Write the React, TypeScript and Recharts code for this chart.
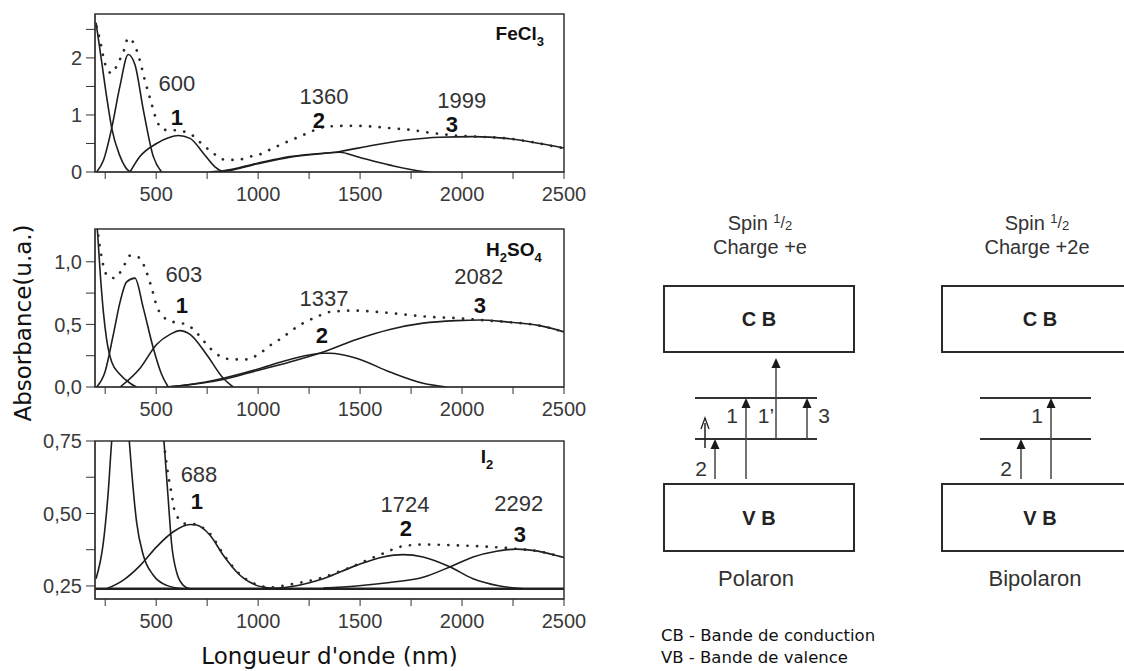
import React from 'react';
import {
  LineChart, Line, XAxis, YAxis, ReferenceArea, ReferenceLine, ReferenceDot,
  ComposedChart, Scatter,
} from 'recharts';

type Pt = [number, number];
type Note = { x: number; y: number; text: string; band?: boolean };
type Chem = { x: number; y: number; parts: [string, boolean][] };

const SANS = '"Liberation Sans", Arial, sans-serif';
const DEJAVU = '"DejaVu Sans", sans-serif';

// shared wavelength axis
const X_TICKS = [250, 500, 750, 1000, 1250, 1500, 1750, 2000, 2250, 2500];
const X_TICK_LABELS = ['', '500', '', '1000', '', '1500', '', '2000', '', '2500'];

// ---- FeCl3 ----
const FECL3_Y_TICKS = [0, 0.5, 1, 1.5, 2, 2.5];
const FECL3_Y_LABELS = ['0', '', '1', '', '2', ''];
const FECL3_A: Pt[] = [[205, 2.62], [230, 2.0], [260, 1.25], [282, 0.77], [320, 0.3], [350, 0.08], [372, 0]];
const FECL3_B: Pt[] = [[208, 0], [241, 0.2], [282, 0.77], [322, 1.5], [363, 2.06], [396, 1.88], [437, 1.09], [486, 0.27], [527, 0]];
const FECL3_P1: Pt[] = [[372, 0], [420, 0.27], [502, 0.5], [560, 0.6], [608, 0.64], [666, 0.59], [731, 0.33], [788, 0.09], [829, 0]];
const FECL3_P2: Pt[] = [[764, 0], [829, 0.02], [992, 0.15], [1156, 0.27], [1319, 0.33], [1401, 0.345], [1482, 0.27], [1646, 0.12], [1809, 0.01], [1840, 0]];
const FECL3_P3: Pt[] = [[764, 0], [829, 0.01], [992, 0.14], [1156, 0.26], [1401, 0.36], [1564, 0.47], [1728, 0.56], [1891, 0.61], [2054, 0.62], [2218, 0.59], [2381, 0.5], [2500, 0.42]];
const FECL3_SUM: Pt[] = [[208, 2.55], [225, 2.3], [249, 1.9], [282, 1.73], [314, 1.92], [339, 2.1], [363, 2.35], [404, 2.14], [421, 1.94], [445, 1.6], [470, 1.29], [502, 0.91], [535, 0.74], [600, 0.73], [666, 0.67], [731, 0.47], [780, 0.33], [829, 0.22], [894, 0.21], [960, 0.27], [1009, 0.31], [1074, 0.42], [1123, 0.5], [1189, 0.6], [1254, 0.7], [1303, 0.77], [1352, 0.8], [1450, 0.81], [1548, 0.8], [1646, 0.77], [1744, 0.74], [1842, 0.69], [1940, 0.65], [2006, 0.63], [2071, 0.62], [2218, 0.59], [2381, 0.5], [2479, 0.43], [2500, 0.42]];
const FECL3_NOTES: Note[] = [
  { x: 602, y: 1.56, text: '600' }, { x: 602, y: 0.95, text: '1', band: true },
  { x: 1323, y: 1.32, text: '1360' }, { x: 1298, y: 0.91, text: '2', band: true },
  { x: 1999, y: 1.26, text: '1999' }, { x: 1950, y: 0.84, text: '3', band: true },
];
const FECL3_CHEM: Chem = { x: 2283, y: 2.32, parts: [['FeCl', false], ['3', true]] };

// ---- H2SO4 ----
const H2SO4_Y_TICKS = [0, 0.25, 0.5, 0.75, 1];
const H2SO4_Y_LABELS = ['0,0', '', '0,5', '', '1,0'];
const H2SO4_A: Pt[] = [[211, 1.27], [226, 0.9], [241, 0.6], [257, 0.38], [282, 0.2], [323, 0.1], [372, 0.03], [404, 0]];
const H2SO4_B: Pt[] = [[208, 0], [249, 0.12], [290, 0.42], [323, 0.68], [355, 0.84], [396, 0.87], [437, 0.63], [486, 0.31], [527, 0.1], [559, 0]];
const H2SO4_P1: Pt[] = [[323, 0], [421, 0.15], [502, 0.34], [568, 0.42], [617, 0.45], [666, 0.42], [747, 0.26], [829, 0.07], [878, 0]];
const H2SO4_P2: Pt[] = [[551, 0], [666, 0.02], [829, 0.07], [992, 0.14], [1156, 0.22], [1319, 0.27], [1352, 0.27], [1482, 0.23], [1646, 0.12], [1809, 0.03], [1924, 0]];
const H2SO4_P3: Pt[] = [[551, 0], [829, 0.06], [992, 0.13], [1156, 0.2], [1319, 0.28], [1482, 0.38], [1646, 0.46], [1809, 0.51], [1973, 0.53], [2088, 0.535], [2218, 0.52], [2381, 0.49], [2500, 0.44]];
const H2SO4_SUM: Pt[] = [[216, 1.21], [233, 1.03], [265, 0.88], [298, 0.87], [339, 0.96], [372, 1.05], [421, 1.03], [445, 0.95], [478, 0.79], [502, 0.65], [535, 0.56], [584, 0.52], [649, 0.5], [706, 0.42], [764, 0.31], [821, 0.24], [878, 0.22], [943, 0.22], [1009, 0.27], [1066, 0.34], [1115, 0.39], [1172, 0.46], [1221, 0.51], [1287, 0.56], [1352, 0.6], [1466, 0.61], [1581, 0.6], [1711, 0.58], [1842, 0.56], [1973, 0.55], [2088, 0.535], [2218, 0.52], [2381, 0.49], [2500, 0.44]];
const H2SO4_NOTES: Note[] = [
  { x: 636, y: 0.9, text: '603' }, { x: 626, y: 0.65, text: '1', band: true },
  { x: 1323, y: 0.71, text: '1337' }, { x: 1313, y: 0.41, text: '2', band: true },
  { x: 2082, y: 0.88, text: '2082' }, { x: 2087, y: 0.65, text: '3', band: true },
];
const H2SO4_CHEM: Chem = { x: 2254, y: 1.046, parts: [['H', false], ['2', true], ['SO', false], ['4', true]] };

// ---- I2 ----
const I2_Y_TICKS = [0.25, 0.375, 0.5, 0.625, 0.75];
const I2_Y_LABELS = ['0,25', '', '0,50', '', '0,75'];
const I2_BASE = 0.24;
const I2_A: Pt[] = [[205, 0.275], [241, 0.4], [265, 0.575], [282, 0.75], [300, 0.86], [325, 0.9], [350, 0.86], [368, 0.75], [380, 0.644], [404, 0.47], [437, 0.356], [486, 0.287], [551, 0.252], [633, 0.24]];
const I2_B: Pt[] = [[480, 1.2], [520, 0.9], [538, 0.75], [559, 0.55], [575, 0.4], [600, 0.298], [633, 0.252], [666, 0.24]];
const I2_P1: Pt[] = [[257, 0.24], [339, 0.27], [421, 0.32], [502, 0.385], [584, 0.437], [666, 0.462], [698, 0.46], [764, 0.425], [829, 0.356], [911, 0.287], [992, 0.252], [1058, 0.243], [1120, 0.24]];
const I2_P2: Pt[] = [[1025, 0.24], [1156, 0.247], [1319, 0.275], [1482, 0.321], [1613, 0.35], [1711, 0.358], [1809, 0.35], [1940, 0.316], [2054, 0.275], [2185, 0.25], [2299, 0.24]];
const I2_P3: Pt[] = [[1319, 0.243], [1482, 0.25], [1646, 0.262], [1809, 0.28], [1948, 0.318], [2054, 0.35], [2169, 0.37], [2267, 0.377], [2365, 0.371], [2479, 0.352], [2500, 0.348]];
const I2_SUM: Pt[] = [[543, 0.713], [559, 0.632], [575, 0.57], [592, 0.506], [641, 0.465], [666, 0.465], [764, 0.43], [829, 0.36], [911, 0.29], [992, 0.255], [1058, 0.245], [1156, 0.255], [1319, 0.28], [1400, 0.3], [1466, 0.318], [1531, 0.338], [1630, 0.367], [1695, 0.385], [1809, 0.393], [1973, 0.39], [2136, 0.385], [2283, 0.377], [2365, 0.371], [2479, 0.352]];
const I2_NOTES: Note[] = [
  { x: 710, y: 0.636, text: '688' }, { x: 700, y: 0.54, text: '1', band: true },
  { x: 1720, y: 0.53, text: '1724' }, { x: 1725, y: 0.447, text: '2', band: true },
  { x: 2278, y: 0.533, text: '2292' }, { x: 2283, y: 0.426, text: '3', band: true },
];
const I2_CHEM: Chem = { x: 2122, y: 0.674, parts: [['I', false], ['2', true]] };

// ---- band diagram (units of energy, VB top = 0) ----
const BOXES = [
  { x1: 6.4, x2: 25.4, y1: 13.2, y2: 19.8, label: 'C B' },
  { x1: 6.4, x2: 25.4, y1: -6.7, y2: 0, label: 'V B' },
  { x1: 34.2, x2: 53.8, y1: 13.2, y2: 19.8, label: 'C B' },
  { x1: 34.2, x2: 53.8, y1: -6.7, y2: 0, label: 'V B' },
];
const LEVELS = [
  { x1: 9.5, x2: 21.7, y: 4.5 }, { x1: 9.5, x2: 21.7, y: 8.6 },
  { x1: 38, x2: 49.1, y: 4.5 }, { x1: 38, x2: 49.1, y: 8.6 },
];
const ARROWS = [
  { x: 11.5, from: 0.5, to: 4.5, open: false },
  { x: 14.6, from: 0.5, to: 8.6, open: false },
  { x: 17.6, from: 4.5, to: 12.6, open: false },
  { x: 20.7, from: 4.5, to: 8.6, open: false },
  { x: 10.5, from: 3.6, to: 6.6, open: true },
  { x: 42.1, from: 0.5, to: 4.5, open: false },
  { x: 45.1, from: 0.5, to: 8.6, open: false },
];
const SPIN_PARTS: [string, number, number][] = [['Spin ', 20, 0], ['1', 13, -7], ['/', 16, -2], ['2', 13, 0]];
const DIAGRAM_TEXTS = [
  { x: 16.0, y: 25.4, text: 'spin' }, { x: 16.0, y: 23.0, text: 'Charge +e' },
  { x: 43.7, y: 25.4, text: 'spin' }, { x: 43.7, y: 23.0, text: 'Charge +2e' },
  { x: 15.6, y: -10.2, text: 'Polaron' }, { x: 43.5, y: -10.2, text: 'Bipolaron' },
  { x: 13.2, y: 6.9, text: '1' }, { x: 16.6, y: 6.9, text: '1\u2019' }, { x: 22.4, y: 6.9, text: '3' },
  { x: 10.1, y: 1.6, text: '2' }, { x: 43.7, y: 6.9, text: '1' }, { x: 40.6, y: 1.6, text: '2' },
];
const LEGEND = [
  { x: 6.1, y: -15.7, text: 'CB - Bande de conduction' },
  { x: 6.1, y: -17.9, text: 'VB - Bande de valence' },
];

const pts = (a: Pt[]) => a.map(([x, y]) => ({ x, y }));
const fmt = (ticks: number[], labels: string[]) => (v: number) => labels[ticks.indexOf(v)] ?? '';

type PanelProps = {
  top: number; height: number; axisHeight: number;
  yDomain: [number, number]; yTicks: number[]; yLabels: string[];
  parts: Pt[][]; sum: Pt[]; notes: Note[]; chem: Chem; baseline?: number;
  yTitle?: boolean; xTitle?: boolean;
};

function Panel(p: PanelProps) {
  return (
    <div style={{ position: 'absolute', left: 0, top: p.top }}>
      <LineChart width={600} height={p.height} margin={{ top: 14, right: 36, bottom: 0, left: 0 }}>
        <XAxis
          type="number" dataKey="x" domain={[200, 2500]} allowDataOverflow
          ticks={X_TICKS} interval={0} tickFormatter={fmt(X_TICKS, X_TICK_LABELS)}
          height={p.axisHeight} tickSize={7} tickMargin={8} stroke="#333"
          tick={{ fontSize: 20, fill: '#3a3a3a' }}
          label={p.xTitle ? {
            content: (lp: any) => {
              const vb = lp.viewBox ?? { x: 95, y: 172, width: 469 };
              return (
                <text x={vb.x + vb.width / 2} y={vb.y + 57} textAnchor="middle" dominantBaseline="central"
                  fontFamily={DEJAVU} fontSize={23} fill="#111">Longueur d'onde (nm)</text>
              );
            },
          } : undefined}
        />
        <YAxis
          type="number" dataKey="y" domain={p.yDomain} allowDataOverflow
          ticks={p.yTicks} interval={0} tickFormatter={fmt(p.yTicks, p.yLabels)}
          width={95} tickSize={9} tickMargin={4} stroke="#333"
          tick={{ fontSize: 20, fill: '#3a3a3a' }}
          label={p.yTitle ? {
            content: (lp: any) => {
              const vb = lp.viewBox ?? { x: 0, y: 14, width: 95, height: 158 };
              const cy = vb.y + vb.height / 2 + 15;
              return (
                <text transform={`translate(23 ${cy}) rotate(-90)`} textAnchor="middle" dominantBaseline="central"
                  fontFamily={DEJAVU} fontSize={23} fill="#111">Absorbance(u.a.)</text>
              );
            },
          } : undefined}
        />
        <ReferenceArea x1={200} x2={2500} y1={p.yDomain[0]} y2={p.yDomain[1]} fill="none"
          stroke="#333" strokeWidth={1.5} ifOverflow="visible" />
        {p.baseline !== undefined && (
          <ReferenceLine y={p.baseline} stroke="#222" strokeWidth={2.5} />
        )}
        {p.parts.map((s, i) => (
          <Line key={i} data={pts(s)} dataKey="y" type="monotone" stroke="#1e1e1e" strokeWidth={1.6}
            dot={false} activeDot={false} isAnimationActive={false} />
        ))}
        <Line data={pts(p.sum)} dataKey="y" type="monotone" stroke="#2a2a2a" strokeWidth={2.7}
          strokeDasharray="0.1 9.5" strokeLinecap="round" dot={false} activeDot={false} isAnimationActive={false} />
        {p.notes.map((n, i) => (
          <ReferenceDot key={`n${i}`} x={n.x} y={n.y} r={0} ifOverflow="visible"
            shape={(sp: any) => (
              <text x={sp.cx} y={sp.cy} textAnchor="middle" dominantBaseline="central"
                fontFamily={SANS} fontSize={22} fontWeight={n.band ? 700 : 400}
                fill={n.band ? '#111' : '#333'}>{n.text}</text>
            )} />
        ))}
        <ReferenceDot x={p.chem.x} y={p.chem.y} r={0} ifOverflow="visible"
          shape={(sp: any) => {
            let prev = 0;
            return (
              <text x={sp.cx} y={sp.cy} dy={6} textAnchor="middle" fontFamily={SANS} fontWeight={700} fill="#111">
                {p.chem.parts.map(([s, sub], i) => {
                  const shift = sub ? 6 : 0;
                  const dy = shift - prev;
                  prev = shift;
                  return <tspan key={i} dy={dy} fontSize={sub ? 13 : 19}>{s}</tspan>;
                })}
              </text>
            );
          }} />
      </LineChart>
    </div>
  );
}

function headShape(sp: any) {
  const { cx, cy } = sp;
  if (sp.payload?.open) {
    return <path d={`M${cx - 4},${cy + 11} L${cx},${cy} L${cx + 4},${cy + 11}`} fill="none" stroke="#222" strokeWidth={1.3} />;
  }
  return <path d={`M${cx},${cy} L${cx - 4.5},${cy + 10} L${cx + 4.5},${cy + 10} Z`} fill="#1a1a1a" />;
}

function textShape(t: { text: string }) {
  return (sp: any) => {
    if (t.text === 'spin') {
      let prev = 0;
      return (
        <text x={sp.cx} y={sp.cy} textAnchor="middle" fontFamily={SANS} fill="#333">
          {SPIN_PARTS.map(([s, size, shift], i) => {
            const dy = shift - prev;
            prev = shift;
            return <tspan key={i} dy={dy} fontSize={size}>{s}</tspan>;
          })}
        </text>
      );
    }
    const isLevel = t.text.length <= 2;
    const isCharge = t.text.startsWith('Charge');
    return (
      <text x={sp.cx} y={sp.cy} textAnchor="middle" dominantBaseline={isLevel ? 'central' : 'alphabetic'}
        fontFamily={SANS} fontSize={isLevel ? 21 : isCharge ? 20 : 22} fill="#333">{t.text}</text>
    );
  };
}

function BandDiagram() {
  const heads = ARROWS.map((a) => ({ x: a.x, y: a.to, open: a.open }));
  return (
    <div style={{ position: 'absolute', left: 600, top: 200 }}>
      <ComposedChart width={560} height={471} margin={{ top: 0, right: 0, bottom: 0, left: 0 }}>
        <XAxis type="number" dataKey="x" domain={[0, 56]} hide allowDataOverflow />
        <YAxis type="number" dataKey="y" domain={[-18.7, 28.4]} hide allowDataOverflow />
        {BOXES.map((b, i) => (
          <ReferenceArea key={`b${i}`} x1={b.x1} x2={b.x2} y1={b.y1} y2={b.y2} fill="#fff" fillOpacity={1}
            stroke="#2a2a2a" strokeWidth={2} ifOverflow="visible"
            label={{ value: b.label, position: 'center', fontSize: 20, fontWeight: 700, fill: '#222', fontFamily: SANS }} />
        ))}
        {LEVELS.map((l, i) => (
          <ReferenceLine key={`l${i}`} segment={[{ x: l.x1, y: l.y }, { x: l.x2, y: l.y }]}
            stroke="#333" strokeWidth={2} ifOverflow="visible" />
        ))}
        {ARROWS.map((a, i) => (
          <ReferenceLine key={`a${i}`} segment={[{ x: a.x, y: a.from }, { x: a.x, y: a.to - 0.5 }]}
            stroke={a.open ? '#222' : '#444'} strokeWidth={1.5} ifOverflow="visible" />
        ))}
        <Scatter data={heads} shape={headShape} isAnimationActive={false} />
        {DIAGRAM_TEXTS.map((t, i) => (
          <ReferenceDot key={`t${i}`} x={t.x} y={t.y} r={0} ifOverflow="visible" shape={textShape(t)} />
        ))}
        {LEGEND.map((t, i) => (
          <ReferenceDot key={`g${i}`} x={t.x} y={t.y} r={0} ifOverflow="visible"
            shape={(sp: any) => (
              <text x={sp.cx} y={sp.cy} fontFamily={DEJAVU} fontSize={16.5} fill="#111">{t.text}</text>
            )} />
        ))}
      </ComposedChart>
    </div>
  );
}

export default function App() {
  return (
    <div style={{ position: 'absolute', left: 0, top: 0, width: 1124, height: 671, overflow: 'hidden', background: '#fff', fontFamily: SANS }}>
      <Panel top={0} height={212} axisHeight={40} yDomain={[0, 2.77]} yTicks={FECL3_Y_TICKS} yLabels={FECL3_Y_LABELS}
        parts={[FECL3_A, FECL3_B, FECL3_P1, FECL3_P2, FECL3_P3]} sum={FECL3_SUM} notes={FECL3_NOTES} chem={FECL3_CHEM} />
      <Panel top={215} height={212} axisHeight={40} yDomain={[0, 1.262]} yTicks={H2SO4_Y_TICKS} yLabels={H2SO4_Y_LABELS}
        parts={[H2SO4_A, H2SO4_B, H2SO4_P1, H2SO4_P2, H2SO4_P3]} sum={H2SO4_SUM} notes={H2SO4_NOTES} chem={H2SO4_CHEM} yTitle />
      <Panel top={427} height={244} axisHeight={72} yDomain={[0.205, 0.75]} yTicks={I2_Y_TICKS} yLabels={I2_Y_LABELS}
        parts={[I2_A, I2_B, I2_P1, I2_P2, I2_P3]} sum={I2_SUM} notes={I2_NOTES} chem={I2_CHEM} baseline={I2_BASE} xTitle />
      <BandDiagram />
    </div>
  );
}
